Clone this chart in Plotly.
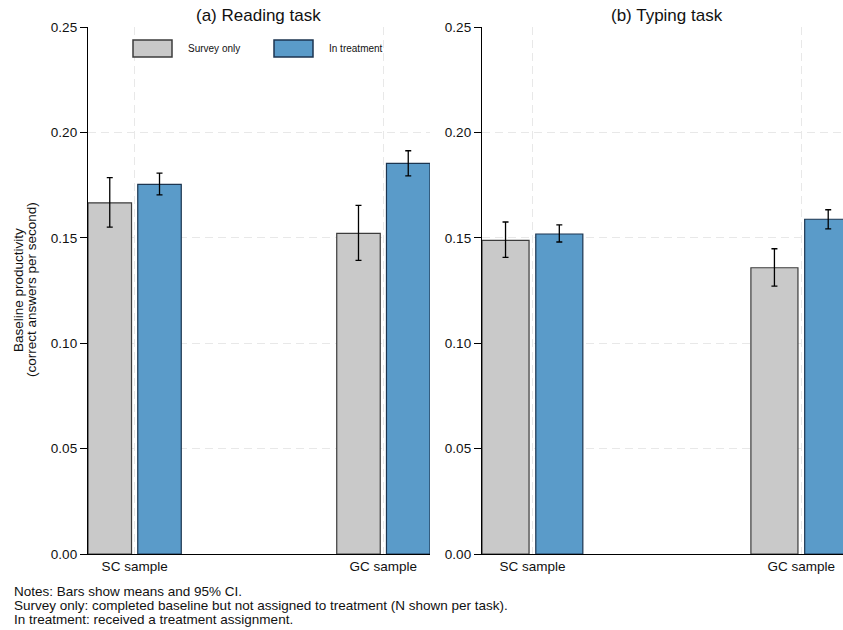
import plotly.graph_objects as go

# Sample groups on the x axis
categories = ["SC sample", "GC sample"]

# (a) Reading task: means and 95% CI bounds
reading_survey_mean = [0.1666, 0.1521]
reading_survey_lo = [0.1551, 0.1393]
reading_survey_hi = [0.1785, 0.1654]
reading_treat_mean = [0.1753, 0.1853]
reading_treat_lo = [0.1704, 0.1794]
reading_treat_hi = [0.1807, 0.1913]

# (b) Typing task: means and 95% CI bounds
typing_survey_mean = [0.1488, 0.1358]
typing_survey_lo = [0.1407, 0.1271]
typing_survey_hi = [0.1575, 0.1448]
typing_treat_mean = [0.1518, 0.1588]
typing_treat_lo = [0.1480, 0.1542]
typing_treat_hi = [0.1561, 0.1633]

y_ticks = [0.00, 0.05, 0.10, 0.15, 0.20, 0.25]
group_names = ["Survey only", "In treatment"]
panel_titles = ["(a) Reading task", "(b) Typing task"]
notes = [
    "Notes: Bars show means and 95% CI.",
    "Survey only: completed baseline but not assigned to treatment (N shown per task).",
    "In treatment: received a treatment assignment.",
]

GRAY = "#c9c9c9"
GRAY_EDGE = "#3c3c3c"
BLUE = "#5a9bc9"
BLUE_EDGE = "#1c3550"
GRID = "#e8e8e8"
FONT = "Liberation Sans, Arial, sans-serif"

W, H = 843, 630


def px_x(p):
    return p / W


def px_y(p):
    return 1 - p / H


def err(mean, lo, hi):
    return dict(
        type="data",
        symmetric=False,
        array=[h - m for m, h in zip(mean, hi)],
        arrayminus=[m - l for m, l in zip(mean, lo)],
        color="black",
        thickness=1.3,
        width=3,
    )


fig = go.Figure()

panels = [
    ("x", "y", reading_survey_mean, reading_survey_lo, reading_survey_hi,
     reading_treat_mean, reading_treat_lo, reading_treat_hi),
    ("x2", "y2", typing_survey_mean, typing_survey_lo, typing_survey_hi,
     typing_treat_mean, typing_treat_lo, typing_treat_hi),
]
for xa, ya, sm, sl, sh, tm, tl, th in panels:
    fig.add_trace(go.Bar(
        x=categories, y=sm, name=group_names[0], xaxis=xa, yaxis=ya,
        marker=dict(color=GRAY, line=dict(color=GRAY_EDGE, width=1.2)),
        error_y=err(sm, sl, sh), showlegend=False,
    ))
    fig.add_trace(go.Bar(
        x=categories, y=tm, name=group_names[1], xaxis=xa, yaxis=ya,
        marker=dict(color=BLUE, line=dict(color=BLUE_EDGE, width=1.2)),
        error_y=err(tm, tl, th), showlegend=False,
    ))

y_domain = [px_y(554), px_y(27)]

xaxis_common = dict(
    type="category",
    showline=True, linecolor="black", linewidth=1.3,
    ticks="", showgrid=True, gridcolor=GRID, griddash="8px,5px", gridwidth=1.2,
    tickfont=dict(size=13.5, color="#111111", family=FONT),
    zeroline=False, automargin=False,
)
yaxis_common = dict(
    range=[0, 0.25], tickvals=y_ticks, tickformat=".2f",
    showline=True, linecolor="black", linewidth=1.3,
    ticks="outside", ticklen=7, tickwidth=1.2, tickcolor="black",
    showgrid=True, gridcolor=GRID, griddash="8px,5px", gridwidth=1.2,
    tickfont=dict(size=13.5, color="#111111", family=FONT),
    zeroline=False, automargin=False, domain=y_domain,
)

fig.update_layout(
    width=W, height=H,
    margin=dict(l=0, r=0, t=0, b=0),
    paper_bgcolor="white", plot_bgcolor="white",
    font=dict(family=FONT, color="#111111"),
    barmode="group", bargap=0.6, bargroupgap=0.125,
    xaxis=dict(xaxis_common, domain=[px_x(88), px_x(430)],
               range=[-0.1875, 1.1875], anchor="y"),
    xaxis2=dict(xaxis_common, domain=[px_x(482), 1.0],
                range=[-0.1875, 1.155], anchor="y2"),
    yaxis=dict(yaxis_common, anchor="x"),
    yaxis2=dict(yaxis_common, anchor="x2"),
    showlegend=False,
)

annotations = []
# Panel titles
for title, cx in zip(panel_titles, [258, 667]):
    annotations.append(dict(
        text=title, x=px_x(cx), y=px_y(15), xref="paper", yref="paper",
        xanchor="center", yanchor="middle", showarrow=False,
        font=dict(size=17, family=FONT, color="#111111"),
    ))
# Y axis title (two lines)
for line, cx in zip(["Baseline productivity", "(correct answers per second)"], [19, 32]):
    annotations.append(dict(
        text=line, x=px_x(cx), y=px_y(290), xref="paper", yref="paper",
        xanchor="center", yanchor="middle", textangle=-90, showarrow=False,
        font=dict(size=13.5, family=FONT, color="#111111"),
    ))
# Notes below the chart
for line, cy in zip(notes, [591, 605, 619]):
    annotations.append(dict(
        text=line, x=px_x(12), y=px_y(cy), xref="paper", yref="paper",
        xanchor="left", yanchor="middle", showarrow=False,
        font=dict(size=13.5, family=FONT, color="#111111"),
    ))

# Legend: swatches and labels
shapes = []
legend_items = [
    (group_names[0], GRAY, GRAY_EDGE, 133, 172, 186),
    (group_names[1], BLUE, BLUE_EDGE, 274, 313, 327),
]
for name, fill, edge, x0, x1, tx in legend_items:
    shapes.append(dict(
        type="rect", xref="paper", yref="paper",
        x0=px_x(x0), x1=px_x(x1), y0=px_y(57), y1=px_y(40),
        fillcolor=fill, line=dict(color=edge, width=1.5),
    ))
    annotations.append(dict(
        text=name, x=px_x(tx), y=px_y(49), xref="paper", yref="paper",
        xanchor="left", yanchor="middle", showarrow=False,
        font=dict(size=10, family=FONT, color="#111111"),
    ))

fig.update_layout(annotations=annotations, shapes=shapes)

fig.write_html("out.html")
